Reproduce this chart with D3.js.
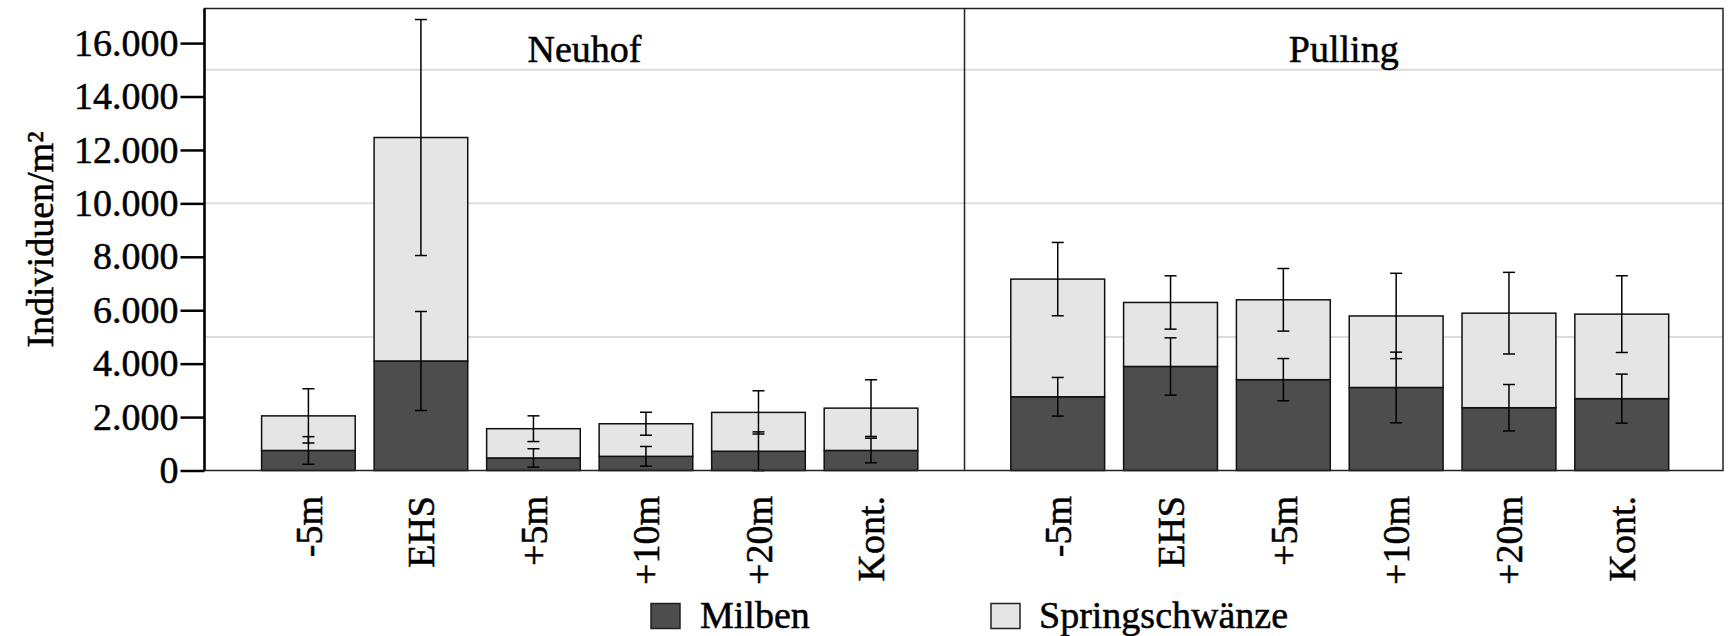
<!DOCTYPE html>
<html>
<head>
<meta charset="utf-8">
<script src="https://cdn.jsdelivr.net/npm/d3@7"></script>
<style>
  html, body { margin: 0; padding: 0; background: #fff; }
  svg { display: block; }
  text { font-family: "Liberation Serif", "Times New Roman", serif; fill: #000; stroke: #000; stroke-width: 0.5px; }
</style>
</head>
<body>
<svg id="chart" width="1732" height="636"></svg>
<script>
// Sampling positions along the transect
const categories = ["-5m", "EHS", "+5m", "+10m", "+20m", "Kont."];
const sites = ["Neuhof", "Pulling"];
const seriesNames = ["Milben", "Springschwänze"];

// Mean abundance (Individuen/m²) and error per site
const neuhofMilben = [750, 4100, 470, 530, 720, 750];
const neuhofMilbenErr = [517, 1853, 345, 369, 725, 460];
const neuhofSpring = [1295, 8365, 1095, 1220, 1455, 1585];
const neuhofSpringErr = [1016, 4417, 481, 430, 810, 1061];

const pullingMilben = [2760, 3895, 3400, 3108, 2350, 2690];
const pullingMilbenErr = [723, 1072, 791, 1323, 869, 918];
const pullingSpring = [4405, 2395, 2990, 2677, 3540, 3164];
const pullingSpringErr = [1372, 998, 1172, 1597, 1528, 1436];

const yTicks = [0, 2000, 4000, 6000, 8000, 10000, 12000, 14000, 16000];
const gridValues = [5000, 10000, 15000];

const fills = { "Milben": "#4d4d4d", "Springschwänze": "#e5e5e5" };

// Layout
const plotLeft = 204.5, plotRight = 1723, plotTop = 8.5, plotBottom = 470.5;
const divider = 964.5;
const font = 38;

const svg = d3.select("#chart");

const y = d3.scaleLinear().domain([0, 17300]).range([plotBottom, plotBottom - 17300 * 0.026713]);

const panels = [
  { name: sites[0], x0: plotLeft, x1: divider, range: [261.6, 917.8],
    milben: neuhofMilben, milbenErr: neuhofMilbenErr, spring: neuhofSpring, springErr: neuhofSpringErr },
  { name: sites[1], x0: divider, x1: plotRight, range: [1010.8, 1668.7],
    milben: pullingMilben, milbenErr: pullingMilbenErr, spring: pullingSpring, springErr: pullingSpringErr }
];

// Grid lines behind the bars
svg.append("g").selectAll("line").data(gridValues).join("line")
  .attr("x1", plotLeft).attr("x2", plotRight)
  .attr("y1", d => y(d)).attr("y2", d => y(d))
  .attr("stroke", "#dcdcdc").attr("stroke-width", 2);

const de = d3.formatLocale({ decimal: ",", thousands: ".", grouping: [3], currency: ["", " €"] });
const fmt = de.format(",d");

panels.forEach(p => {
  const x = d3.scaleBand().domain(categories).range(p.range).paddingInner(0.168).paddingOuter(0);
  const rows = categories.map((c, i) => ({
    cat: c,
    milben: p.milben[i], milbenErr: p.milbenErr[i],
    spring: p.spring[i], springErr: p.springErr[i]
  }));
  const stack = d3.stack().keys(["milben", "spring"])(rows);
  const g = svg.append("g");

  stack.forEach((layer, li) => {
    g.append("g").selectAll("rect").data(layer).join("rect")
      .attr("x", d => x(d.data.cat))
      .attr("width", x.bandwidth())
      .attr("y", d => y(d[1]))
      .attr("height", d => y(d[0]) - y(d[1]))
      .attr("fill", fills[seriesNames[li]])
      .attr("stroke", "#111").attr("stroke-width", 1.5);
  });

  // Error bars centred on the top of each stacked segment
  const errs = [];
  stack.forEach(layer => layer.forEach(d => {
    const e = layer.key === "milben" ? d.data.milbenErr : d.data.springErr;
    errs.push({ cx: x(d.data.cat) + x.bandwidth() / 2, top: d[1], err: e });
  }));
  const eg = g.append("g").attr("stroke", "#000").attr("stroke-width", 1.5);
  eg.selectAll("line.v").data(errs).join("line").attr("class", "v")
    .attr("x1", d => d.cx).attr("x2", d => d.cx)
    .attr("y1", d => y(d.top - d.err)).attr("y2", d => y(d.top + d.err));
  eg.selectAll("line.lo").data(errs).join("line").attr("class", "lo")
    .attr("x1", d => d.cx - 6).attr("x2", d => d.cx + 6)
    .attr("y1", d => y(d.top - d.err)).attr("y2", d => y(d.top - d.err));
  eg.selectAll("line.hi").data(errs).join("line").attr("class", "hi")
    .attr("x1", d => d.cx - 6).attr("x2", d => d.cx + 6)
    .attr("y1", d => y(d.top + d.err)).attr("y2", d => y(d.top + d.err));

  // Category labels, rotated
  g.append("g").selectAll("text").data(categories).join("text")
    .attr("transform", d => `translate(${x(d) + x.bandwidth() / 2},496) rotate(-90)`)
    .attr("text-anchor", "end").attr("dy", "0.35em")
    .attr("font-size", font).text(d => d);

  // Panel title
  g.append("text").attr("x", (p.x0 + p.x1) / 2).attr("y", 62)
    .attr("text-anchor", "middle").attr("font-size", font).text(p.name);
});

// Frame and panel divider
svg.append("rect").attr("x", plotLeft).attr("y", plotTop)
  .attr("width", plotRight - plotLeft).attr("height", plotBottom - plotTop)
  .attr("fill", "none").attr("stroke", "#222").attr("stroke-width", 1.5);
svg.append("line").attr("x1", divider).attr("x2", divider)
  .attr("y1", plotTop).attr("y2", plotBottom)
  .attr("stroke", "#222").attr("stroke-width", 1.5);

// Y axis
const yAxis = d3.axisLeft(y).tickValues(yTicks).tickSize(24).tickPadding(2).tickFormat(fmt);
const ya = svg.append("g").attr("transform", `translate(${plotLeft},0)`).call(yAxis);
ya.select(".domain").attr("d", `M0,${plotTop}V${plotBottom}`).attr("stroke", "#000").attr("stroke-width", 2.5);
ya.selectAll(".tick line").attr("stroke", "#000").attr("stroke-width", 2.5);
ya.selectAll(".tick text").attr("font-size", font)
  .attr("font-family", "Liberation Serif, Times New Roman, serif").attr("fill", "#000");

// Y axis title
svg.append("text")
  .attr("transform", `translate(40,${(plotTop + plotBottom) / 2}) rotate(-90)`)
  .attr("text-anchor", "middle").attr("dy", "0.35em").attr("font-size", font)
  .text("Individuen/m²");

// Legend
const legend = [
  { name: seriesNames[0], sx: 651, tx: 700 },
  { name: seriesNames[1], sx: 991, tx: 1039 }
];
const lg = svg.append("g");
lg.selectAll("rect").data(legend).join("rect")
  .attr("x", d => d.sx).attr("y", 603.5).attr("width", 29).attr("height", 25)
  .attr("fill", d => fills[d.name]).attr("stroke", "#222").attr("stroke-width", 1.5);
lg.selectAll("text").data(legend).join("text")
  .attr("x", d => d.tx).attr("y", 628).attr("font-size", font).text(d => d.name);
</script>
</body>
</html>
